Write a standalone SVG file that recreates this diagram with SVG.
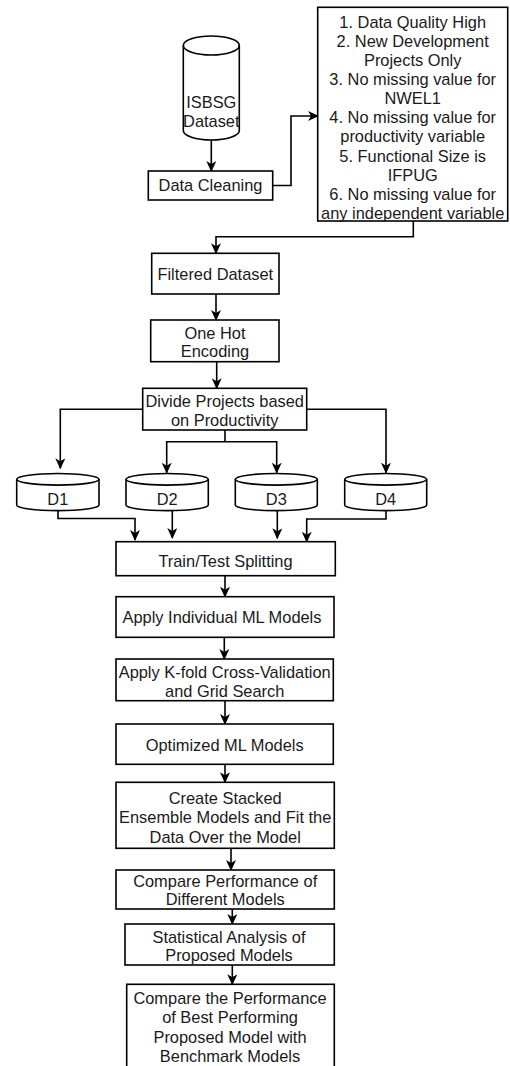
<svg xmlns="http://www.w3.org/2000/svg" width="510" height="1066" viewBox="0 0 510 1066">
<style>
.box{fill:#fff;stroke:#000;stroke-width:1.6}
.cyl{fill:#fff;stroke:#000;stroke-width:1.6}
.ln{fill:none;stroke:#000;stroke-width:1.6;marker-end:url(#arr)}
.pl{fill:none;stroke:#000;stroke-width:1.6}
text{font-family:"Liberation Sans",Arial,sans-serif;font-size:16.4px;fill:#1a1a1a;text-anchor:middle}
</style>
<defs>
<marker id="arr" markerUnits="userSpaceOnUse" viewBox="0 0 11 10" refX="10" refY="5" markerWidth="11" markerHeight="10" orient="auto">
<path d="M0,0 L11,5 L0,10 L3,5 Z" fill="#000"/>
</marker>
</defs>
<rect width="510" height="1066" fill="#fff"/>
<g id="connectors">
<path class="ln" d="M211.3,140 V171"/>
<path class="ln" d="M272.7,185.5 H291 V116 H318"/>
<path class="ln" d="M413.3,221 V236.7 H216 V253.3"/>
<path class="ln" d="M216,294 V320"/>
<path class="ln" d="M216.7,361.7 V388.3"/>
<path class="ln" d="M142.7,409.3 H60.3 V468.3"/>
<path class="ln" d="M306.7,409.3 H386 V472.7"/>
<path class="pl" d="M225,430 V441.7"/>
<path class="ln" d="M225,441.7 H166.7 V472.7"/>
<path class="ln" d="M225,441.7 H276.7 V472.7"/>
<path class="ln" d="M58,510.5 V518.5 H135 V540"/>
<path class="ln" d="M172.3,510.5 V538"/>
<path class="ln" d="M277.3,510.5 V538.3"/>
<path class="ln" d="M386,510.5 V519 H306.7 V541.7"/>
<path class="ln" d="M225,575.7 V596.7"/>
<path class="ln" d="M224.3,637.3 V659"/>
<path class="ln" d="M225,700.7 V724"/>
<path class="ln" d="M225,764.3 V782.3"/>
<path class="ln" d="M231,848.3 V870"/>
<path class="ln" d="M232.3,909 V924"/>
<path class="ln" d="M232.3,965 V984.3"/>
</g>
<g id="isbsg">
<path class="cyl" d="M183.3,45.5 A28,9.5 0 0 1 239.3,45.5 V130.5 A28,9.5 0 0 1 183.3,130.5 Z"/>
<path class="pl" d="M183.3,45.5 A28,9.5 0 0 0 239.3,45.5"/>
<text x="211.3" y="108">ISBSG</text>
<text x="211.3" y="127">Dataset</text>
</g>
<g id="data-cleaning">
<rect class="box" x="148.3" y="171" width="124.4" height="29"/>
<text x="210.5" y="191.3">Data Cleaning</text>
</g>
<g id="criteria">
<rect class="box" x="317.7" y="7.3" width="190" height="213.7"/>
<text x="412.7" y="27.5">1. Data Quality High<tspan x="412.7" dy="19.15">2. New Development</tspan><tspan x="412.7" dy="19.15">Projects Only</tspan><tspan x="412.7" dy="19.15">3. No missing value for</tspan><tspan x="412.7" dy="19.15">NWEL1</tspan><tspan x="412.7" dy="19.15">4. No missing value for</tspan><tspan x="412.7" dy="19.15">productivity variable</tspan><tspan x="412.7" dy="19.15">5. Functional Size is</tspan><tspan x="412.7" dy="19.15">IFPUG</tspan><tspan x="412.7" dy="19.15">6. No missing value for</tspan><tspan x="412.7" dy="19.15">any independent variable</tspan></text>
</g>
<g id="filtered">
<rect class="box" x="151.7" y="253.3" width="127.3" height="40.7"/>
<text x="215.3" y="280">Filtered Dataset</text>
</g>
<g id="onehot">
<rect class="box" x="150.7" y="320" width="128.3" height="41.7"/>
<text x="215" y="338.7">One Hot</text>
<text x="215" y="357">Encoding</text>
</g>
<g id="divide">
<rect class="box" x="142.7" y="388.3" width="164" height="41.7"/>
<text x="224.7" y="406.7">Divide Projects based</text>
<text x="224.7" y="426">on Productivity</text>
</g>
<g id="d1">
<path class="cyl" d="M16.7,479.3 A41.15,5.8 0 0 1 99,479.3 V505 A41.15,5.6 0 0 1 16.7,505 Z"/>
<path class="pl" d="M16.7,479.3 A41.15,5.8 0 0 0 99,479.3"/>
<text x="57.8" y="505.3">D1</text>
</g>
<g id="d2">
<path class="cyl" d="M126,479.3 A41.15,5.8 0 0 1 208.3,479.3 V505 A41.15,5.6 0 0 1 126,505 Z"/>
<path class="pl" d="M126,479.3 A41.15,5.8 0 0 0 208.3,479.3"/>
<text x="167.2" y="505.3">D2</text>
</g>
<g id="d3">
<path class="cyl" d="M235.3,479.3 A41,5.8 0 0 1 317.3,479.3 V505 A41,5.6 0 0 1 235.3,505 Z"/>
<path class="pl" d="M235.3,479.3 A41,5.8 0 0 0 317.3,479.3"/>
<text x="276.3" y="505.3">D3</text>
</g>
<g id="d4">
<path class="cyl" d="M344.7,479.3 A41,5.8 0 0 1 426.7,479.3 V505 A41,5.6 0 0 1 344.7,505 Z"/>
<path class="pl" d="M344.7,479.3 A41,5.8 0 0 0 426.7,479.3"/>
<text x="385.7" y="505.3">D4</text>
</g>
<g id="train-test">
<rect class="box" x="116" y="541.7" width="219.3" height="34"/>
<text x="225.5" y="566.7">Train/Test Splitting</text>
</g>
<g id="apply-individual">
<rect class="box" x="116" y="596.7" width="218" height="40.6"/>
<text x="222" y="623.3">Apply Individual ML Models</text>
</g>
<g id="kfold">
<rect class="box" x="116" y="659" width="217.3" height="41.7"/>
<text x="224.7" y="677.7">Apply K-fold Cross-Validation</text>
<text x="224.7" y="696.7">and Grid Search</text>
</g>
<g id="optimized">
<rect class="box" x="116" y="724" width="217.3" height="40.3"/>
<text x="224.7" y="751">Optimized ML Models</text>
</g>
<g id="stacked">
<rect class="box" x="116" y="782.3" width="218.3" height="66"/>
<text x="225.2" y="804.3">Create Stacked</text>
<text x="225.2" y="823.3">Ensemble Models and Fit the</text>
<text x="225.2" y="842.7">Data Over the Model</text>
</g>
<g id="compare-performance">
<rect class="box" x="116" y="870" width="218.3" height="39"/>
<text x="225.2" y="886.7">Compare Performance of</text>
<text x="225.2" y="905.3">Different Models</text>
</g>
<g id="statistical">
<rect class="box" x="125" y="924" width="209.3" height="41"/>
<text x="229" y="942.7">Statistical Analysis of</text>
<text x="229" y="961">Proposed Models</text>
</g>
<g id="compare-best">
<rect class="box" x="126.7" y="984.3" width="207.6" height="100"/>
<text x="230" y="1004.3">Compare the Performance</text>
<text x="230" y="1023.3">of Best Performing</text>
<text x="230" y="1042.7">Proposed Model with</text>
<text x="230" y="1061.7">Benchmark Models</text>
</g>
</svg>
